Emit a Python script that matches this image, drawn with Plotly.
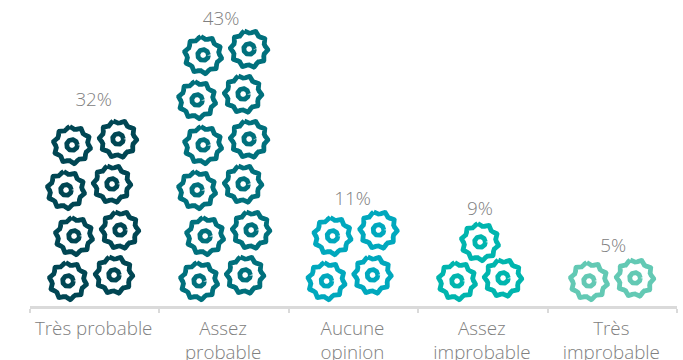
import numpy as np
import plotly.graph_objects as go

categories = ["Très probable", "Assez<br>probable", "Aucune<br>opinion", "Assez<br>improbable", "Très<br>improbable"]
values = [32, 43, 11, 9, 5]
gear_counts = [8, 12, 4, 3, 2]
colors = ["#004653", "#00707C", "#00A8BD", "#00B5AE", "#63C9B4"]

W = 647.0
BASE = 306.0
SLOT = W / len(categories)
LOBES = 10
ROW_H = [25, 70, 116, 161, 206, 251]
ROW_DX = [-26, -20, -28, -22, -28, -22]
GROUP_SHIFT = [-0.7, 1, -1, 0, 0]
LABEL_Y = [205, 286, 106, 96, 59]
LABEL_DX = [-1, -3, -1, -3, 1]


def gear(cx, cy, rot=0.0):
    t = np.linspace(0, 2 * np.pi, 241)
    r = 17.2 + 1.5 * np.cos(LOBES * t)
    a = t + rot + np.pi / 2 + 0.12
    xo = cx + r * np.cos(a)
    yo = cy + r * np.sin(a)
    xi = cx + 5.4 * np.cos(t)
    yi = cy + 5.4 * np.sin(t)
    return (list(xo) + [None] + list(xi) + [None], list(yo) + [None] + list(yi) + [None])


def centres(i, n):
    c = (i + 0.5) * SLOT
    if n == 3:
        return [(c - 25.9, 25, 0), (c + 20.1, 28, 0.14), (c - 2.9, 64, 0)]
    if n == 2:
        return [(c - 23.3, 25, 0), (c + 22.7, 28, 0.14)]
    pts = []
    for k in range(n):
        row, col = k // 2, k % 2
        x = c + ROW_DX[row] + GROUP_SHIFT[i] + 46 * col
        pts.append((x, ROW_H[row] + 6 * col, 0.14 * col))
    return pts


fig = go.Figure()
for i, n in enumerate(gear_counts):
    xs, ys = [], []
    for cx, cy, rot in centres(i, n):
        gx, gy = gear(cx, cy, rot)
        xs += gx
        ys += gy
    fig.add_trace(go.Scatter(x=xs, y=ys, mode="lines",
                             line=dict(color=colors[i], width=4.8),
                             hoverinfo="skip", showlegend=False, cliponaxis=False))

fig.add_trace(go.Scatter(
    x=[(i + 0.5) * SLOT + LABEL_DX[i] for i in range(len(values))],
    y=LABEL_Y,
    mode="text",
    text=[f"{v}%" for v in values],
    textposition="middle center",
    textfont=dict(family="Open Sans", size=18.8, color="#808080", weight=300),
    hoverinfo="skip", showlegend=False, cliponaxis=False))

fig.update_layout(
    width=683, height=360,
    autosize=False,
    margin=dict(l=30, r=6, t=0, b=54, pad=0),
    paper_bgcolor="white", plot_bgcolor="white",
    xaxis=dict(range=[0, W], showgrid=False, zeroline=False,
               showline=True, linecolor="#DADADA", linewidth=3,
               tickmode="array",
               tickvals=[(i + 0.5) * SLOT - 1 for i in range(len(categories))],
               ticktext=categories, ticks="outside", ticklen=3, tickcolor="rgba(0,0,0,0)",
               tickfont=dict(family="Open Sans", size=18.8, color="#808080", weight=300),
               tickangle=0, automargin=False,
               minor=dict(tickmode="array",
                          tickvals=[i * SLOT for i in range(len(categories) + 1)],
                          ticks="outside", ticklen=4, tickcolor="#DADADA", tickwidth=2,
                          showgrid=False)),
    yaxis=dict(range=[0, BASE], visible=False, fixedrange=True),
)

fig.write_html("out.html", config={"displayModeBar": False},
               post_script="document.body.style.margin='0';document.body.style.overflow='hidden';")
